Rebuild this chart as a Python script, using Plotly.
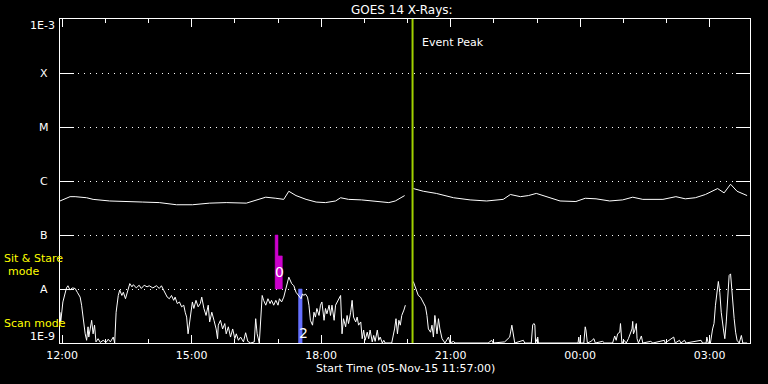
import plotly.graph_objects as go
import pandas as pd

START = pd.Timestamp("2015-11-05 12:00")
FONT = "DejaVu Sans"

# GOES 14 long channel (1-8 A): minutes after 12:00 and log10 flux (W/m^2); None = data gap
long_min = [-3, 11, 18, 34, 43, 66, 112, 135, 159, 181, 205, 228, 256, 264, 274, 283, 297, 308, 315, 325,
            339, 353, 366, 380, 387, 398, 416, 436, 454, 463, 476, None, 488, 502, 520, 544, 567, 590, 613,
            623, 637, 648, 659, 673, 692, 714, 727, 742, 761, 779, 793, 807, 835, 853, 866, 880, 894, 911,
            920, 929, 938, 952]
long_log = [-6.37, -6.29, -6.29, -6.31, -6.34, -6.37, -6.39, -6.40, -6.44, -6.44, -6.41, -6.40, -6.41, -6.38,
            -6.33, -6.30, -6.32, -6.34, -6.19, -6.27, -6.34, -6.39, -6.40, -6.37, -6.31, -6.34, -6.35, -6.37,
            -6.40, -6.37, -6.27, None, -6.14, -6.19, -6.23, -6.31, -6.35, -6.37, -6.34, -6.25, -6.29, -6.27,
            -6.23, -6.29, -6.37, -6.38, -6.32, -6.33, -6.37, -6.35, -6.30, -6.34, -6.34, -6.29, -6.33, -6.31,
            -6.25, -6.14, -6.22, -6.06, -6.19, -6.27]

# GOES 14 short channel (0.5-4 A)
short_pts = [
    (-3, -8.43), (-2, -8.61), (1, -8.24), (4, -8.09), (6, -7.98), (8, -7.94), (11, -8.02), (14, -7.98),
    (18, -7.99), (21, -8.06), (25, -8.15), (27, -8.30), (30, -8.64), (32, -8.83), (34, -8.95), (36, -8.70),
    (37, -8.89), (39, -8.74), (41, -8.58), (43, -8.83), (45, -8.67), (47, -8.98), (50, -8.92), (53, -8.99),
    (57, -8.95), (61, -8.99), (64, -8.93), (67, -8.98), (71, -8.89), (73, -9.0), (75, -8.43), (78, -8.12),
    (80, -8.02), (83, -8.12), (85, -8.06), (88, -8.18), (91, -8.02), (94, -7.90), (97, -7.96), (99, -7.92),
    (103, -7.98), (107, -7.93), (110, -7.99), (114, -7.93), (118, -7.96), (121, -7.94), (126, -7.98),
    (131, -7.94), (135, -7.99), (138, -7.94), (141, -8.02), (144, -8.09), (146, -8.15), (149, -8.18),
    (152, -8.12), (155, -8.21), (157, -8.15), (160, -8.27), (163, -8.24), (166, -8.33), (169, -8.30),
    (171, -8.43), (173, -8.52), (175, -8.83), (177, -8.61), (179, -8.43), (181, -8.24), (183, -8.36),
    (186, -8.21), (189, -8.33), (192, -8.27), (194, -8.15), (197, -8.36), (200, -8.49), (203, -8.30),
    (205, -8.61), (208, -8.43), (211, -8.58), (214, -8.74), (216, -8.92), (217, -8.67), (220, -8.58),
    (223, -8.74), (226, -8.64), (228, -8.83), (231, -8.70), (234, -8.89), (237, -8.74), (240, -8.92),
    (242, -8.83), (245, -8.95), (248, -8.89), (252, -8.98), (255, -8.81), (258, -8.97), (262, -9.0),
    (267, -8.98), (269, -8.55), (271, -8.83), (274, -9.0), (276, -8.49), (278, -8.12), (280, -8.21),
    (283, -8.30), (286, -8.18), (289, -8.27), (291, -8.21), (294, -8.30), (297, -8.21), (300, -8.30),
    (302, -8.18), (305, -8.24), (308, -8.15), (311, -7.99), (313, -7.87), (315, -7.78), (319, -7.90),
    (322, -7.94), (325, -8.06), (328, -8.12), (332, -8.18), (334, -8.09), (336, -8.12), (338, -8.09),
    (341, -8.15), (343, -8.30), (345, -8.58), (348, -8.67), (350, -8.43), (352, -8.52), (354, -8.36),
    (357, -8.49), (359, -8.30), (361, -8.24), (364, -8.58), (366, -8.36), (368, -8.46), (371, -8.30),
    (373, -8.49), (375, -8.30), (378, -8.58), (380, -8.30), (382, -8.24), (385, -8.18), (387, -8.12),
    (389, -8.83), (391, -8.55), (394, -8.70), (396, -8.49), (398, -8.64), (401, -8.43), (403, -8.21),
    (405, -8.52), (408, -8.61), (410, -8.52), (412, -8.67), (415, -8.61), (417, -8.92), (419, -8.76),
    (421, -8.95), (424, -8.80), (426, -8.92), (428, -8.76), (431, -8.98), (433, -8.86), (435, -8.97),
    (438, -8.76), (440, -8.95), (442, -8.89), (445, -9.0), (447, -8.95), (449, -9.0), (458, -9.0),
    (462, -8.74), (464, -8.55), (466, -8.83), (468, -8.58), (470, -8.67), (472, -8.49), (475, -8.39),
    (477, -8.30), (None, None),
    (488, -7.86), (491, -7.96), (493, -8.02), (495, -8.12), (498, -8.15), (500, -8.21), (502, -8.24),
    (505, -8.33), (507, -8.49), (509, -8.74), (512, -8.80), (514, -8.67), (516, -8.89), (518, -8.49),
    (521, -8.83), (523, -8.55), (525, -8.74), (528, -8.92), (532, -9.0), (537, -8.89), (539, -9.0),
    (544, -8.97), (546, -9.0), (592, -9.0), (597, -8.95), (599, -9.0), (615, -8.98), (620, -8.92),
    (622, -8.89), (625, -8.67), (627, -8.83), (629, -9.0), (641, -8.95), (643, -9.0), (652, -9.0),
    (654, -8.66), (656, -8.64), (657, -8.67), (658, -9.0), (661, -8.89), (662, -9.0), (717, -9.0),
    (718, -8.89), (719, -9.0), (725, -9.0), (727, -8.70), (728, -8.76), (730, -9.0), (735, -8.97),
    (739, -8.92), (741, -9.0), (751, -8.97), (754, -9.0), (765, -9.0), (768, -8.87), (770, -8.95),
    (772, -8.83), (775, -8.80), (776, -8.64), (778, -9.0), (781, -8.95), (784, -9.0), (787, -8.92),
    (790, -8.83), (792, -8.74), (793, -8.60), (794, -8.83), (796, -8.76), (798, -8.64), (799, -8.92),
    (801, -9.0), (805, -8.87), (807, -9.0), (818, -8.97), (821, -9.0), (837, -8.95), (838, -9.0),
    (850, -8.89), (852, -9.0), (858, -8.95), (860, -9.0), (865, -8.95), (867, -9.0), (888, -8.95),
    (890, -9.0), (895, -9.0), (896, -8.89), (898, -9.0), (901, -9.0), (904, -8.74), (906, -8.64),
    (908, -8.30), (911, -7.87), (912, -7.86), (914, -8.06), (916, -8.43), (919, -8.74), (921, -8.92),
    (923, -8.61), (925, -8.12), (927, -7.75), (929, -7.72), (931, -8.12), (934, -8.55), (936, -8.80),
    (938, -8.95), (941, -9.0), (944, -8.86), (946, -9.0), (952, -9.0),
]
short_min = [p[0] for p in short_pts]
short_log = [p[1] for p in short_pts]

# Observation blocks (minutes after 12:00, flux bounds)
obs_start = [296, 300, 328.5]
obs_end = [300, 306, 333.5]
obs_low = [1e-8, 1e-8, 1e-9]
obs_high = [1e-7, 4.1e-8, 1e-8]
obs_color = ["#CC00CC", "#CC00CC", "#6670FF"]
obs_text = ["0", "2"]
obs_text_min = [302, 335]
obs_text_log = [-7.69, -8.82]

peak_min = 487
class_labels = ["A", "B", "C", "M", "X"]
class_exp = [-8, -7, -6, -5, -4]


def to_time(m):
    return None if m is None else START + pd.Timedelta(minutes=m)


def to_flux(v):
    return None if v is None else 10 ** v


fig = go.Figure()

for s, e, lo, hi, c in zip(obs_start, obs_end, obs_low, obs_high, obs_color):
    fig.add_trace(go.Scatter(
        x=[to_time(s), to_time(e), to_time(e), to_time(s), to_time(s)],
        y=[lo, lo, hi, hi, lo], mode="lines", fill="toself", fillcolor=c,
        line=dict(width=0.5, color=c), hoverinfo="skip", showlegend=False))

fig.add_trace(go.Scatter(x=[to_time(m) for m in short_min], y=[to_flux(v) for v in short_log],
                         mode="lines", line=dict(color="white", width=1), connectgaps=False,
                         showlegend=False))
fig.add_trace(go.Scatter(x=[to_time(m) for m in long_min], y=[to_flux(v) for v in long_log],
                         mode="lines", line=dict(color="white", width=1), connectgaps=False,
                         showlegend=False))

fig.add_shape(type="line", xref="x", yref="paper", x0=to_time(peak_min), x1=to_time(peak_min),
              y0=0, y1=1, line=dict(color="#A0D000", width=2))


def txt(text, x, y, xref="paper", yref="paper", xanchor="center", color="white", size=11, **kw):
    d = dict(text=text, x=x, y=y, xref=xref, yref=yref, xanchor=xanchor, yanchor="middle",
             showarrow=False, font=dict(color=color, size=size, family=FONT))
    d.update(kw)
    return d


ann = []
for t, m, v in zip(obs_text, obs_text_min, obs_text_log):
    ann.append(txt(t, to_time(m), v, xref="x", yref="y", size=14))
ann.append(txt("Event Peak", to_time(peak_min), 0.926, xref="x", xanchor="left", xshift=7))
for lab, ex in zip(class_labels, class_exp):
    ann.append(txt(lab, -0.0239, ex, yref="y"))
ann.append(dict(text="1E-3", x=-0.004, y=-3, xref="paper", yref="y", xanchor="right", yanchor="top",
                yshift=2, showarrow=False, font=dict(color="white", size=11, family=FONT)))
ann.append(dict(text="1E-9", x=-0.004, y=-9, xref="paper", yref="y", xanchor="right", yanchor="bottom",
                yshift=-2, showarrow=False, font=dict(color="white", size=11, family=FONT)))
ann.append(txt("Sit & Stare", -0.0377, 0.2593, color="#FFFF00"))
ann.append(txt("mode", -0.0522, 0.2222, color="#FFFF00"))
ann.append(txt("Scan mode", -0.0841, 0.0602, xanchor="left", color="#FFFF00"))
ann.append(txt("GOES 14 X-Rays:", 0.4957, 1.0278, size=12))
ann.append(txt("Start Time (05-Nov-15 11:57:00)", 0.5, -0.0772))

fig.update_layout(
    width=768, height=384,
    margin=dict(l=60, r=18, t=19, b=41),
    paper_bgcolor="black", plot_bgcolor="black",
    showlegend=False,
    annotations=ann,
    xaxis=dict(
        type="date",
        range=[START - pd.Timedelta(minutes=3), START + pd.Timedelta(minutes=956)],
        tickformat="%H:%M", tick0="2015-11-05 12:00", dtick=3 * 3600 * 1000,
        ticks="inside", ticklen=8, tickcolor="white", tickwidth=1, ticklabelstandoff=2,
        minor=dict(dtick=3600 * 1000, tick0="2015-11-05 12:00", ticks="inside", ticklen=4,
                   tickcolor="white", showgrid=False),
        showgrid=False, zeroline=False, showline=True, linecolor="white", linewidth=1,
        mirror="ticks", tickfont=dict(color="white", size=11, family=FONT),
    ),
    yaxis=dict(
        type="log", range=[-9, -3],
        tickvals=[1e-9, 1e-8, 1e-7, 1e-6, 1e-5, 1e-4, 1e-3],
        showticklabels=False,
        ticks="inside", ticklen=14, tickcolor="white", tickwidth=1,
        showgrid=True, gridcolor="white", gridwidth=1, griddash="1px,5px",
        zeroline=False, showline=True, linecolor="white", linewidth=1, mirror="ticks",
    ),
)

fig.write_html("out.html")
